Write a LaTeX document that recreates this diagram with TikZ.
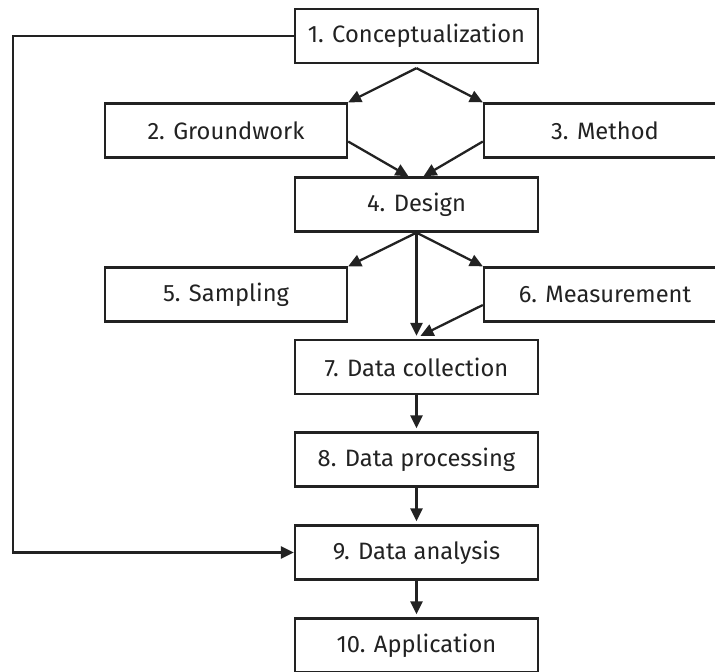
\documentclass[tikz,border=0pt]{standalone}
\usepackage{fontspec}
\setmainfont{Fira Sans}
\usetikzlibrary{arrows.meta,calc}
\definecolor{ink}{HTML}{222222}
\begin{document}
\begin{tikzpicture}[x=1pt,y=1pt,
  line width=2.3pt, draw=ink,
  stage/.style={draw=ink, line width=2.3pt, fill=white, text=ink,
    minimum height=54pt, inner sep=0pt,
    font=\fontsize{23.7}{28}\selectfont},
  wide/.style={stage, minimum width=243pt},
  side/.style={stage, minimum width=242pt},
  flow/.style={draw=ink, line width=2.3pt,
    -{Triangle[length=13pt,width=12pt]}}]
\clip (0,0) rectangle (715,-672);

% stages of the process
\node[wide] (b1)  at (416.5,-36)   {1. Conceptualization};
\node[side] (b2)  at (226,-130.5)  {2. Groundwork};
\node[side] (b3)  at (605,-130.5)  {3. Method};
\node[wide] (b4)  at (416.5,-204.5){4. Design};
\node[side] (b5)  at (226,-294.5)  {5. Sampling};
\node[side] (b6)  at (605,-294.5)  {6. Measurement};
\node[wide] (b7)  at (416.5,-367)  {7. Data collection};
\node[wide] (b8)  at (416.5,-459.5){8. Data processing};
\node[wide] (b9)  at (416.5,-552.5){9. Data analysis};
\node[wide] (b10) at (416.5,-645.5){10. Application};

% branching points and merge targets
\coordinate (s1) at ([yshift=-4pt]b1.south);
\coordinate (m4l) at ([xshift=-8pt]b4.north);
\coordinate (m4r) at ([xshift=7pt]b4.north);
\coordinate (s4) at (b4.south);
\coordinate (m7)  at ([yshift=3pt]b7.north);
\coordinate (m7r) at ([xshift=4pt,yshift=3pt]b7.north);
\coordinate (fb)  at (13,0 |- b1.west);

% connectors
\draw[flow] (s1) -- (b2.north east);
\draw[flow] (s1) -- (b3.north west);
\draw[flow] ([yshift=-11pt]b2.east) -- (m4l);
\draw[flow] ([yshift=-11pt]b3.west) -- (m4r);
\draw[flow] (s4) -- (b5.north east);
\draw[flow] (s4) -- (b6.north west);
\draw[flow] (s4) -- (m7);
\draw[flow] ([yshift=-10.5pt]b6.west) -- (m7r);
\draw[flow] (b7.south) -- ([yshift=3pt]b8.north);
\draw[flow] (b8.south) -- ([yshift=3pt]b9.north);
\draw[flow] (b9.south) -- ([yshift=3pt]b10.north);
\draw[flow] (b1.west) -- (fb) -- (fb |- b9.west) -- (b9.west);
\end{tikzpicture}
\end{document}
